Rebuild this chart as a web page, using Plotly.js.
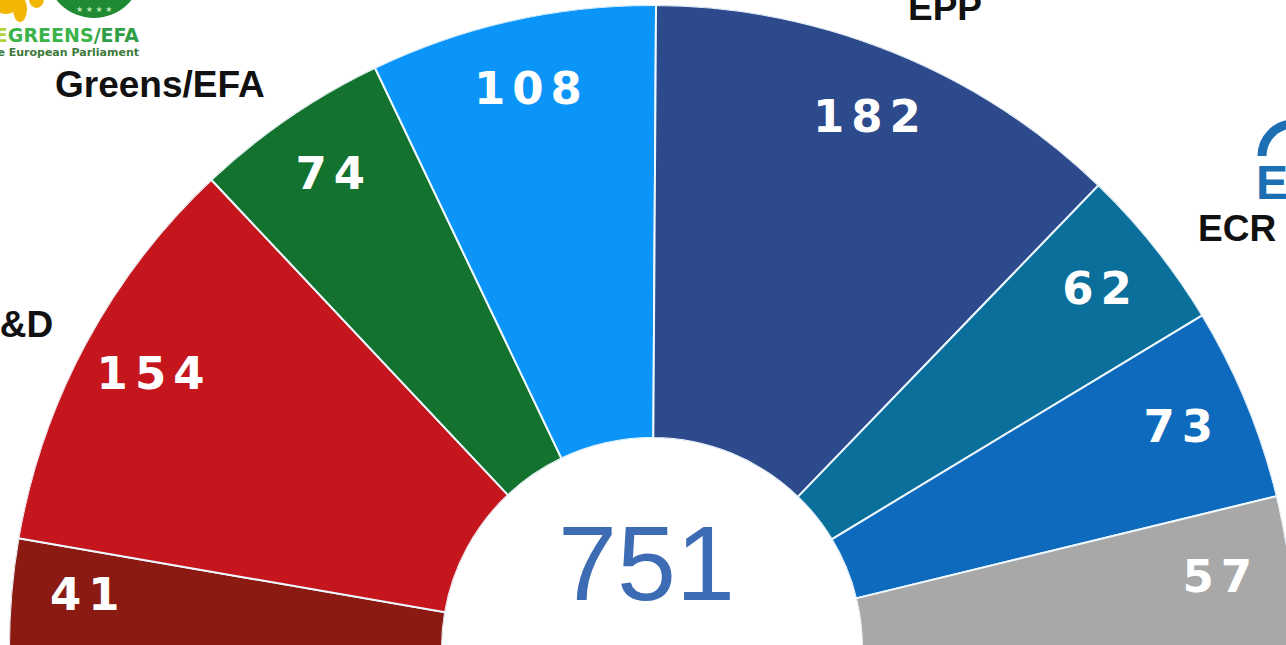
<!DOCTYPE html>
<html><head><meta charset="utf-8">
<script src="https://cdn.plot.ly/plotly-3.0.1.min.js"></script>
<style>html,body{margin:0;padding:0;overflow:hidden;background:#fff;} #chart{width:1300px;height:660px;}</style>
</head><body><div id="chart"></div>
<script>
// ---- data ----
const groups = ['GUE/NGL', 'S&D', 'Greens/EFA', 'Renew Europe', 'EPP', 'ECR', 'ID', 'NI'];
const seats = [41, 154, 74, 108, 182, 62, 73, 57];
const colors = ['#8B1B12', '#C4161C', '#14722F', '#0B95F8', '#2D4A8D', '#0B6F9C', '#0E6ABC', '#A8A8A8'];
const partyLabels = ['S&D', 'Greens/EFA', 'EPP', 'ECR'];

const total = seats.reduce((a, b) => a + b, 0);
const W = 1300, H = 660;
const px = x => x / W;
const py = y => (H - y) / H;

let cum = 0;
const thetas = [], widths = [];
seats.forEach(v => {
  widths.push(v * 180 / total);
  thetas.push(180 - (cum + v / 2) * 180 / total);
  cum += v;
});

const bars = {
  type: 'barpolar',
  r: seats.map(() => 1),
  theta: thetas,
  width: widths,
  marker: {color: colors, line: {color: '#eef8ff', width: 2}},
  text: groups.map((g, i) => g + ': ' + seats[i]),
  hoverinfo: 'text'
};
const labels = {
  type: 'scatterpolar',
  mode: 'text',
  r: seats.map(() => 0.83),
  theta: thetas,
  text: seats.map(String),
  textposition: 'middle center',
  textfont: {color: '#ffffff', size: 45, family: 'DejaVu Sans', weight: 'bold'},
  hoverinfo: 'skip'
};

const nameFont = {family: 'Liberation Sans, Arial', size: 37, color: '#111111', weight: 'bold'};
const annotations = [
  {text: String(total), x: px(646), y: py(563), xref: 'paper', yref: 'paper', showarrow: false,
   xanchor: 'center', yanchor: 'middle', font: {family: 'Liberation Sans, Arial', size: 106, color: '#3D6CB4'}},
  {text: partyLabels[0], x: px(-27), y: py(324), xref: 'paper', yref: 'paper', showarrow: false,
   xanchor: 'left', yanchor: 'middle', font: nameFont},
  {text: partyLabels[1], x: px(160), y: py(84), xref: 'paper', yref: 'paper', showarrow: false,
   xanchor: 'center', yanchor: 'middle', font: nameFont},
  {text: partyLabels[2], x: px(945), y: py(7), xref: 'paper', yref: 'paper', showarrow: false,
   xanchor: 'center', yanchor: 'middle', font: nameFont},
  {text: partyLabels[3], x: px(1237), y: py(229), xref: 'paper', yref: 'paper', showarrow: false,
   xanchor: 'center', yanchor: 'middle', font: nameFont},
  // logos (partial, cropped as in the picture)
  {text: '<span style="font-size:19px;color:#3cb34a"><span style="color:#b5d334">THE</span>GREENS<span style="color:#2f9e44">/EFA</span></span><br>' +
         '<span style="color:#3d7a3a">in the European Parliament</span>',
   x: px(141), y: py(41), xref: 'paper', yref: 'paper', showarrow: false, xanchor: 'right', yanchor: 'middle', align: 'right',
   font: {family: 'DejaVu Sans', size: 11, color: '#3d7a3a', weight: 'bold'}},
  {text: '★ ★ ★ ★', x: px(94), y: py(9), xref: 'paper', yref: 'paper', showarrow: false,
   xanchor: 'center', yanchor: 'middle', font: {family: 'DejaVu Sans', size: 8, color: '#b8e6b0'}},
  {text: 'ECR', x: px(1254), y: py(182), xref: 'paper', yref: 'paper', showarrow: false,
   xanchor: 'left', yanchor: 'middle', font: {family: 'Liberation Sans, Arial', size: 48, color: '#1d6fb4', weight: 'bold'}}
];

const arc = (cx, cy, r) => {
  const k = 0.5523 * r;
  return 'M ' + px(cx - r) + ' ' + py(cy) + ' C ' + px(cx - r) + ' ' + py(cy - k) + ' ' + px(cx - k) + ' ' + py(cy - r) + ' ' + px(cx) + ' ' + py(cy - r);
};
const shapes = [
  {type: 'circle', xref: 'paper', yref: 'paper', x0: px(46), x1: px(142), y0: py(18), y1: py(-78),
   fillcolor: '#1f8a32', line: {width: 0}},
  {type: 'circle', xref: 'paper', yref: 'paper', x0: px(-8), x1: px(20), y0: py(14), y1: py(-14),
   fillcolor: '#f2b705', line: {width: 0}},
  {type: 'circle', xref: 'paper', yref: 'paper', x0: px(13), x1: px(27), y0: py(22), y1: py(-4),
   fillcolor: '#f2b705', line: {width: 0}},
  {type: 'circle', xref: 'paper', yref: 'paper', x0: px(29), x1: px(44), y0: py(8), y1: py(-10),
   fillcolor: '#f2b705', line: {width: 0}},
  {type: 'path', xref: 'paper', yref: 'paper', path: arc(1294, 156, 32), line: {color: '#1d6fb4', width: 9}}
];

const layout = {
  width: W, height: H,
  margin: {l: 0, r: 0, t: 0, b: 0},
  paper_bgcolor: '#ffffff',
  showlegend: false,
  polar: {
    domain: {x: [px(9), px(1295)], y: [py(648), py(5)]},
    sector: [0, 180],
    hole: 210 / 643,
    bargap: 0,
    bgcolor: 'rgba(0,0,0,0)',
    radialaxis: {visible: false, range: [0, 1]},
    angularaxis: {visible: false, direction: 'counterclockwise', rotation: 0}
  },
  annotations: annotations,
  shapes: shapes
};

Plotly.newPlot('chart', [bars, labels], layout, {displayModeBar: false, staticPlot: true}).then(() => {
  document.querySelectorAll('#chart .textpoint text').forEach(t => {
    t.style.letterSpacing = '7px';
    const x = parseFloat(t.getAttribute('x'));
    if (!isNaN(x)) t.setAttribute('x', x + 3.5);
  });
});
</script>
</body></html>
